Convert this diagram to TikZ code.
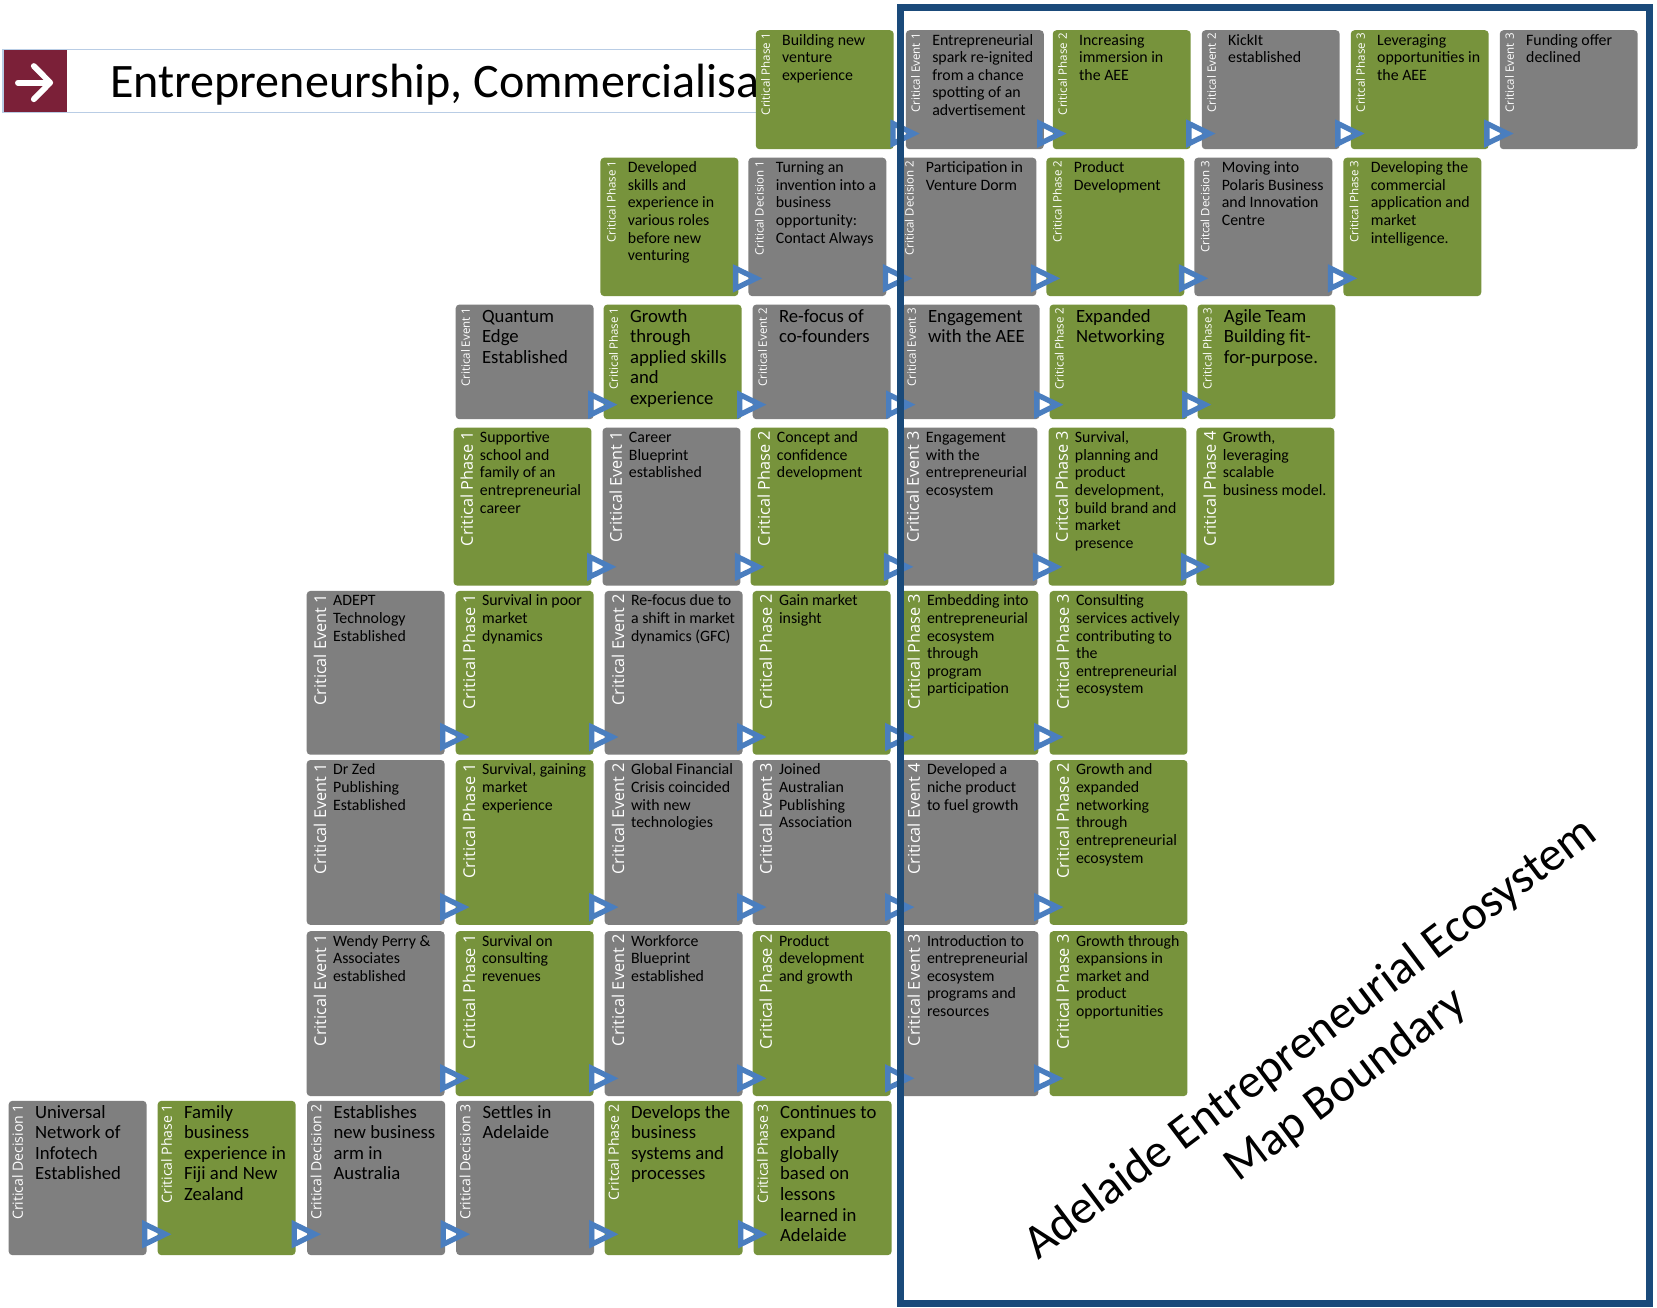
\documentclass[tikz,border=0pt]{standalone}
\usepackage{fontspec}
\setmainfont{Carlito}
\newfontfamily\labfont{Open Sans}
\usetikzlibrary{calc}
\definecolor{cgreen}{HTML}{77933C}
\definecolor{cgray}{HTML}{7F7F7F}
\definecolor{carrow}{HTML}{4A7EBF}
\definecolor{cframe}{HTML}{1A4A7A}
\definecolor{cmaroon}{HTML}{7B2038}
\definecolor{cline}{HTML}{B9CDE5}
\tikzset{
  cardbox/.style={rounded corners=3.5pt, minimum width=130.5pt, inner sep=0pt, anchor=north west, draw=none},
  labS/.style={font=\labfont\fontsize{10.9}{12}\selectfont, text=white, inner sep=0pt, rotate=90, anchor=base east},
  labM/.style={font=\labfont\fontsize{15.4}{17}\selectfont, text=white, inner sep=0pt, rotate=90, anchor=base east},
  labL/.style={font=\labfont\fontsize{13.3}{15}\selectfont, text=white, inner sep=0pt, rotate=90, anchor=base east},
  txtS/.style={font=\fontsize{15}{16.7}\selectfont, align=left, inner sep=0pt, anchor=north west, text=black},
  txtL/.style={font=\fontsize{17.7}{19.45}\selectfont, align=left, inner sep=0pt, anchor=north west, text=black},
  flowarrow/.style={draw=carrow, line width=5pt, line join=miter},
  bigtxt/.style={font=\fontsize{45.5}{54}\selectfont, inner sep=0pt, rotate=37, anchor=base},
}
\newcommand{\card}[5]{%
  \node[cardbox, fill=#3, minimum height=\rowH] (#1) at (#2,\rowY) {};
  \node[curlab] (#1-l) at ($(#1.north west)+(\laboff,3)$) {#4};
  \node[curtxt] (#1-t) at ($(#1.north west)+(\txtoff,2)$) {\rule{0pt}{\strutH}#5};
}
\newcommand{\flow}[1]{%
  \coordinate (#1-a) at ($(#1.south west)+(0,-\arrY)$);
  \draw[flowarrow] ($(#1-a)+(-12,-9.5)$) -- ($(#1-a)+(7.5,0)$) -- ($(#1-a)+(-12,9.5)$) -- cycle;
}
\begin{document}
\begin{tikzpicture}[x=1pt,y=-1pt]
\useasboundingbox (0,0) rectangle (1568,1237);
\fill[white] (0,0) rectangle (1568,1237);

% title bar
\draw[cline, line width=1.5pt] (3,46.7) -- (715,46.7);
\draw[cline, line width=1.5pt] (3,106.6) -- (715,106.6);
\draw[cline, line width=1.5pt] (3,46.7) -- (3,106.6);
\fill[cmaroon] (3.5,47.4) rectangle (63,106);
\draw[white, line width=5.5pt, line cap=round, line join=round] (17,78.2) -- (47,78.2);
\draw[white, line width=5.5pt, line cap=round, line join=round] (32,62.5) -- (47.5,78.2) -- (32,93.9);
\node[anchor=base west, inner sep=0pt, font=\fontsize{45.5}{50}\selectfont] (title) at (104,92) {Entrepreneurship, Commercialisa};

% ---------- Row 1
\def\rowY{28.4}\def\rowH{112.6pt}\def\laboff{13.5}\def\txtoff{25}\def\strutH{12pt}\def\arrY{15}
\tikzset{curlab/.style={labS}, curtxt/.style={txtS}}
\card{r1a}{715}{cgreen}{Critical Phase 1}{Building new\\venture\\experience}
\card{r1b}{857}{cgray}{Critical Event 1}{Entrepreneurial\\spark re-ignited\\from a chance\\spotting of an\\advertisement}
\card{r1c}{996}{cgreen}{Critical Phase 2}{Increasing\\immersion in\\the AEE}
\card{r1d}{1137}{cgray}{Critical Event 2}{KickIt\\established}
\card{r1e}{1278}{cgreen}{Critcal Phase 3}{Leveraging\\opportunities in\\the AEE}
\card{r1f}{1419}{cgray}{Critical Event 3}{Funding offer\\declined}
\flow{r1b}\flow{r1c}\flow{r1d}\flow{r1e}\flow{r1f}

% ---------- Row 2
\def\rowY{149}\def\rowH{131pt}\def\laboff{14.5}\def\txtoff{26}\def\strutH{12pt}\def\arrY{17}
\card{r3a}{568}{cgreen}{Critical Phase 1}{Developed\\skills and\\experience in\\various roles\\before new\\venturing}
\card{r3b}{708}{cgray}{Critical Decision 1}{Turning an\\invention into a\\business\\opportunity:\\Contact Always}
\card{r3c}{850}{cgray}{Critical Decision 2}{Participation in\\Venture Dorm}
\card{r3d}{990}{cgreen}{Critical Phase 2}{Product\\Development}
\card{r3e}{1130}{cgray}{Critcal Decision 3}{Moving into\\Polaris Business\\and Innovation\\Centre}
\card{r3f}{1271}{cgreen}{Critical Phase 3}{Developing the\\commercial\\application and\\market\\intelligence.}
\flow{r3b}\flow{r3c}\flow{r3d}\flow{r3e}\flow{r3f}

% ---------- Row 3
\def\rowY{288}\def\rowH{108.5pt}\def\laboff{13.6}\def\txtoff{25}\def\strutH{14.5pt}\def\arrY{14}
\tikzset{curlab/.style={labS}, curtxt/.style={txtL}}
\card{r4a}{431}{cgray}{Critical Event 1}{Quantum\\Edge\\Established}
\card{r4b}{571}{cgreen}{Critical Phase 1}{Growth\\through\\applied skills\\and\\experience}
\card{r4c}{712}{cgray}{Critical Event 2}{Re-focus of\\co-founders}
\card{r4d}{853}{cgray}{Critical Event 3}{Engagement\\with the AEE}
\card{r4e}{993}{cgreen}{Critical Phase 2}{Expanded\\Networking}
\card{r4f}{1133}{cgreen}{Critical Phase 3}{Agile Team\\Building fit-\\for-purpose.}
\flow{r4b}\flow{r4c}\flow{r4d}\flow{r4e}\flow{r4f}

% ---------- Row 4
\def\rowY{404.5}\def\rowH{149.5pt}\def\laboff{18.5}\def\txtoff{25}\def\strutH{12pt}\def\arrY{18}
\tikzset{curlab/.style={labM}, curtxt/.style={txtS}}
\card{r5a}{429}{cgreen}{Critical Phase 1}{Supportive\\school and\\family of an\\entrepreneurial\\career}
\card{r5b}{570}{cgray}{Critical Event 1}{Career\\Blueprint\\established}
\card{r5c}{710}{cgreen}{Critical Phase 2}{Concept and\\confidence\\development}
\card{r5d}{851}{cgray}{Critical Event 3}{Engagement\\with the\\entrepreneurial\\ecosystem}
\card{r5e}{992}{cgreen}{Critcal Phase 3}{Survival,\\planning and\\product\\development,\\build brand and\\market\\presence}
\card{r5f}{1132}{cgreen}{Critical Phase 4}{Growth,\\leveraging\\scalable\\business model.}
\flow{r5b}\flow{r5c}\flow{r5d}\flow{r5e}\flow{r5f}

% ---------- Row 5
\def\rowY{559}\def\rowH{155pt}\def\arrY{17}
\card{r6a}{290}{cgray}{Critical Event 1}{ADEPT\\Technology\\Established}
\card{r6b}{431}{cgreen}{Critical Phase 1}{Survival in poor\\market\\dynamics}
\card{r6c}{572}{cgray}{Critical Event 2}{Re-focus due to\\a shift in market\\dynamics (GFC)}
\card{r6d}{712}{cgreen}{Critical Phase 2}{Gain market\\insight}
\card{r6e}{852}{cgreen}{Critical Phase 3}{Embedding into\\entrepreneurial\\ecosystem\\through\\program\\participation}
\card{r6f}{993}{cgreen}{Critical Phase 3}{Consulting\\services actively\\contributing to\\the\\entrepreneurial\\ecosystem}
\flow{r6b}\flow{r6c}\flow{r6d}\flow{r6e}\flow{r6f}

% ---------- Row 6
\def\rowY{719}\def\rowH{156pt}
\card{r7a}{290}{cgray}{Critical Event 1}{Dr Zed\\Publishing\\Established}
\card{r7b}{431}{cgreen}{Critical Phase 1}{Survival, gaining\\market\\experience}
\card{r7c}{572}{cgray}{Critical Event 2}{Global Financial\\Crisis coincided\\with new\\technologies}
\card{r7d}{712}{cgray}{Critical Event 3}{Joined\\Australian\\Publishing\\Association}
\card{r7e}{852}{cgray}{Critical Event 4}{Developed a\\niche product\\to fuel growth}
\card{r7f}{993}{cgreen}{Critical Phase 2}{Growth and\\expanded\\networking\\through\\entrepreneurial\\ecosystem}
\flow{r7b}\flow{r7c}\flow{r7d}\flow{r7e}\flow{r7f}

% ---------- Row 7
\def\rowY{881}\def\rowH{156pt}
\card{r8a}{290}{cgray}{Critical Event 1}{Wendy Perry \&\\Associates\\established}
\card{r8b}{431}{cgreen}{Critical Phase 1}{Survival on\\consulting\\revenues}
\card{r8c}{572}{cgray}{Critical Event 2}{Workforce\\Blueprint\\established}
\card{r8d}{712}{cgreen}{Critical Phase 2}{Product\\development\\and growth}
\card{r8e}{852}{cgray}{Critical Event 3}{Introduction to\\entrepreneurial\\ecosystem\\programs and\\resources}
\card{r8f}{993}{cgreen}{Critical Phase 3}{Growth through\\expansions in\\market and\\product\\opportunities}
\flow{r8b}\flow{r8c}\flow{r8d}\flow{r8e}\flow{r8f}

% ---------- Row 8
\def\rowY{1041.5}\def\rowH{146pt}\def\laboff{13.6}\def\txtoff{25}\def\strutH{14.5pt}\def\arrY{20}
\tikzset{curlab/.style={labL}, curtxt/.style={txtL}}
\card{r9a}{8}{cgray}{Critical Decision 1}{Universal\\Network of\\Infotech\\Established}
\card{r9b}{149}{cgreen}{Critical Phase 1}{Family\\business\\experience in\\Fiji and New\\Zealand}
\card{r9c}{290.5}{cgray}{Critical Decision 2}{Establishes\\new business\\arm in\\Australia}
\card{r9d}{431.5}{cgray}{Critical Decision 3}{Settles in\\Adelaide}
\card{r9e}{572}{cgreen}{Critcal Phase 2}{Develops the\\business\\systems and\\processes}
\card{r9f}{713}{cgreen}{Critical Phase 3}{Continues to\\expand\\globally\\based on\\lessons\\learned in\\Adelaide}
\flow{r9b}\flow{r9c}\flow{r9d}\flow{r9e}\flow{r9f}

% ---------- boundary
\draw[cframe, line width=7pt] (852,7) rectangle (1561,1233.5);
\node[bigtxt] (aee1) at (1248,993) {Adelaide Entrepreneurial Ecosystem};
\node[bigtxt] (aee2) at (1281,1037) {Map Boundary};
\end{tikzpicture}
\end{document}
